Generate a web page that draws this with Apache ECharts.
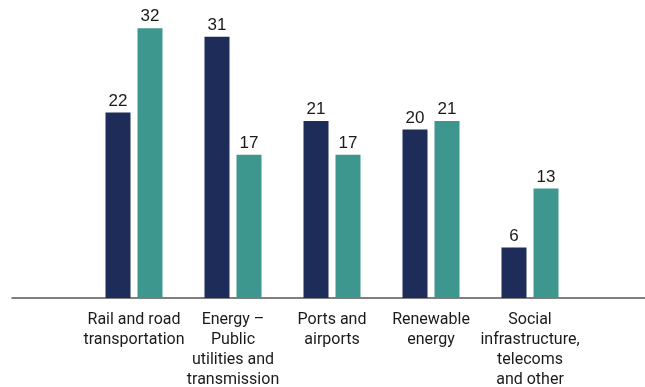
<!DOCTYPE html>
<html><head><meta charset="utf-8">
<script src="https://cdn.jsdelivr.net/npm/echarts@6/dist/echarts.min.js"></script>
<style>html,body{margin:0;padding:0;background:#fff}#c{width:645px;height:387px}</style>
</head><body><div id="c"></div>
<script>
const categories = ["Rail and road\ntransportation", "Energy \u2013\nPublic\nutilities and\ntransmission", "Ports and\nairports", "Renewable\nenergy", "Social\ninfrastructure,\ntelecoms\nand other"];
const seriesA = [22, 31, 21, 20, 6];
const seriesB = [32, 17, 17, 21, 13];
const NAVY = '#1d2c58', TEAL = '#3e978f';
const FONT = 'Roboto';
const chart = echarts.init(document.getElementById('c'), null, {renderer: 'canvas'});
const lbl = {show: true, position: 'top', distance: 3, color: '#1a1a1a', fontFamily: 'Liberation Sans', fontSize: 17};
chart.setOption({
  animation: false,
  grid: [
    {left: 84.5, width: 495, top: 3, bottom: 89, outerBoundsMode: 'none', containLabel: false},
    {left: 12, right: 0, top: 3, bottom: 89, outerBoundsMode: 'none', containLabel: false}
  ],
  xAxis: [
    {type: 'category', data: categories, gridIndex: 0,
     axisLine: {show: false}, axisTick: {show: false},
     axisLabel: {interval: 0, margin: 12, color: '#1a1a1a', fontFamily: FONT, fontSize: 16, lineHeight: 20}},
    {type: 'value', gridIndex: 1, min: 0, max: 1, position: 'bottom',
     axisLine: {show: true, onZero: false, lineStyle: {color: '#555', width: 1.5}},
     axisTick: {show: false}, axisLabel: {show: false}, splitLine: {show: false}}
  ],
  yAxis: [
    {type: 'value', gridIndex: 0, min: 0, max: 35, show: false, splitLine: {show: false}},
    {type: 'value', gridIndex: 1, min: 0, max: 1, show: false, splitLine: {show: false}}
  ],
  series: [
    {type: 'bar', data: seriesA, barWidth: 25, barGap: '28%', itemStyle: {color: NAVY}, label: lbl},
    {type: 'bar', data: seriesB, barWidth: 25, barGap: '28%', itemStyle: {color: TEAL}, label: lbl}
  ]
});
</script></body></html>
